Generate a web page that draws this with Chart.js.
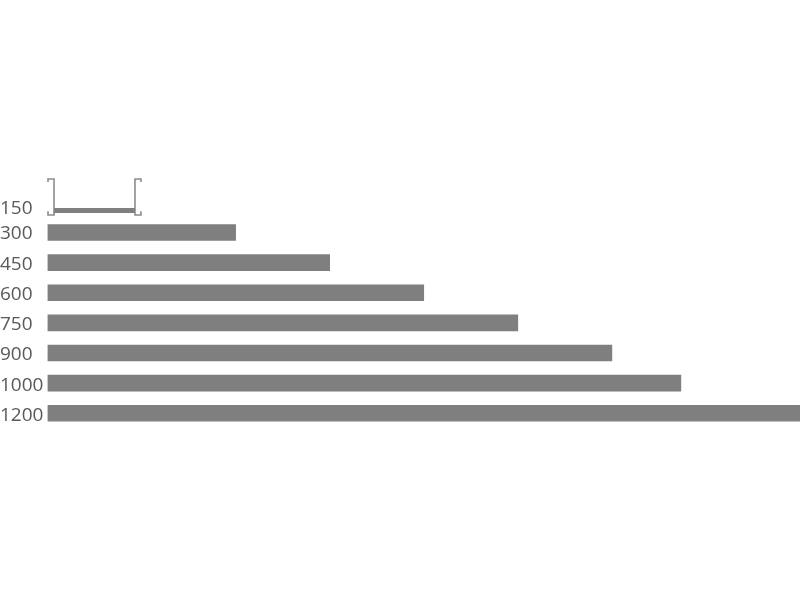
<!DOCTYPE html>
<html>
<head>
<meta charset="utf-8">
<script src="https://cdn.jsdelivr.net/npm/chart.js@4"></script>
<style>html,body{margin:0;padding:0;background:#fff}canvas{display:block}</style>
</head>
<body>
<canvas id="c" width="800" height="600"></canvas>
<script>
// Tick labels and where each sits along the row axis
const categories = ['150','300','450','600','750','900','1000','1200'];
const labelRows = [0.22,1.05,2.05,3.05,4.06,5.06,6.08,7.09];

// Long bars
const barRows = [1,2,3,4,5,6,7];
const barValues = [300,450,600,750,900,1010,1200];

// First row: channel cross-section, in axis units
const webValues = [10.4,139.5];
const webRow = 0.27;
const leftFlangeX = [0.8,0.8,10.4,10.4,0.8,0.8];
const rightFlangeX = [149,149,139.5,139.5,149,149];
const flangeRows = [-0.68,-0.78,-0.78,0.42,0.42,0.29];

const GREY = '#7f7f7f';
const toPoints = (xs, ys) => xs.map((x,i)=>({x, y: ys[i]}));

const flange = xs => ({
  type:'line', data:toPoints(xs,flangeRows), borderColor:'#8c8c8c', borderWidth:1.6,
  pointRadius:0, tension:0, fill:false, clip:false, indexAxis:'y'
});

new Chart(document.getElementById('c'), {
  data:{
    datasets:[
      {type:'bar', data:toPoints(barValues,barRows), backgroundColor:GREY, barThickness:16, grouped:false, indexAxis:'y'},
      {type:'line', data:toPoints(webValues,[webRow,webRow]), borderColor:GREY, borderWidth:5,
       pointRadius:0, fill:false, clip:false, indexAxis:'y'},
      flange(leftFlangeX),
      flange(rightFlangeX)
    ]
  },
  options:{
    responsive:false,
    animation:false,
    indexAxis:'y',
    layout:{padding:{top:172,bottom:172,left:0,right:0}},
    plugins:{legend:{display:false},tooltip:{enabled:false},title:{display:false}},
    scales:{
      x:{type:'linear',min:0,max:1200,display:false},
      y:{
        type:'linear',reverse:true,min:-1.01,max:7.49,offset:false,
        grid:{display:false},border:{display:false},
        afterBuildTicks:s=>{s.ticks=labelRows.map(value=>({value}));},
        afterFit:s=>{s.width=47.5;s.paddingTop=0;s.paddingBottom=0;},
        ticks:{
          autoSkip:false,
          crossAlign:'far',
          padding:0,
          color:'#595959',
          font:{family:'"Open Sans"',size:19},
          callback:(v,i)=>categories[i]
        }
      }
    }
  }
});
</script>
</body>
</html>
